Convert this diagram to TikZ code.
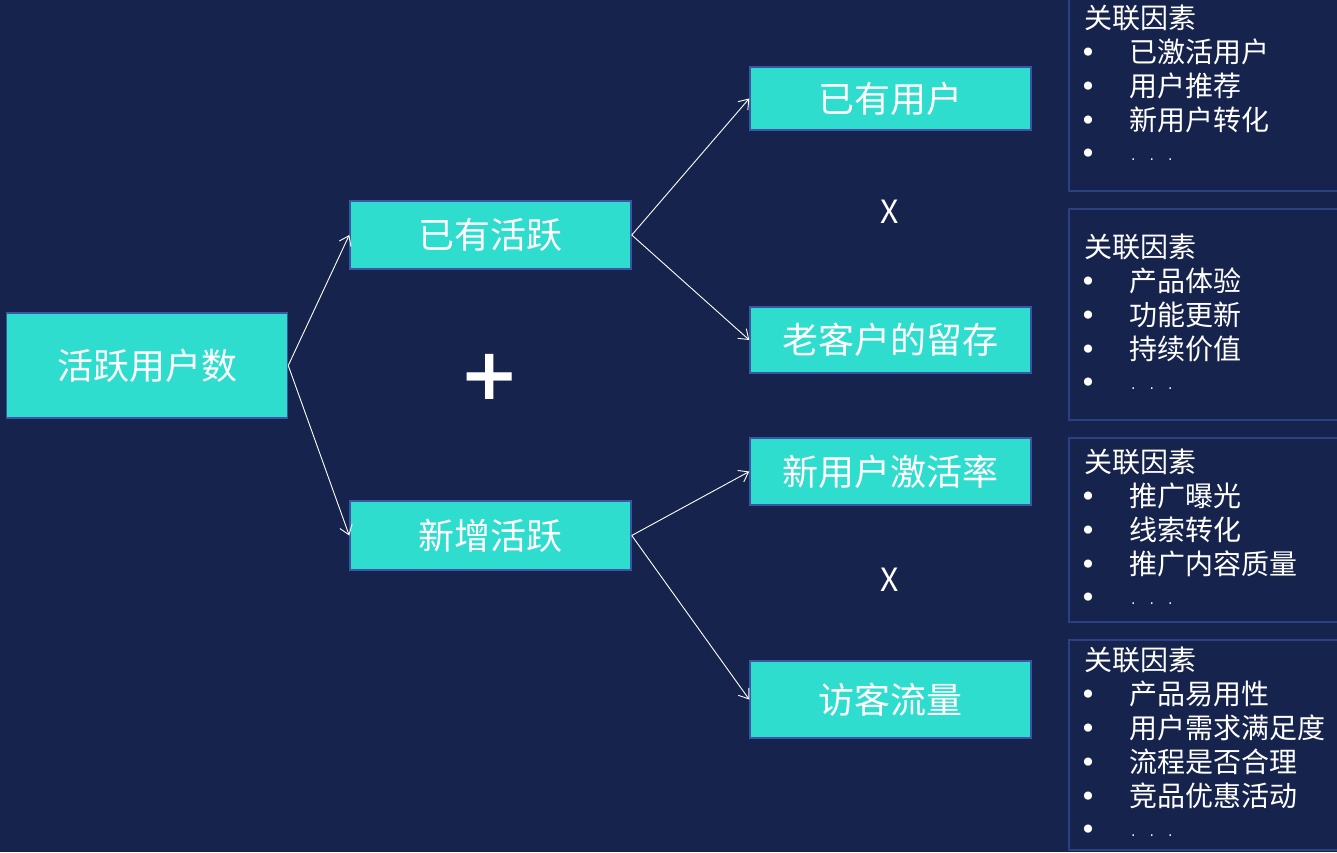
\documentclass[tikz,border=0pt]{standalone}
\usepackage{fontspec}
\setmainfont{Noto Sans CJK SC}
\newfontfamily\dotfont{DejaVu Sans}
\usetikzlibrary{arrows.meta}

\definecolor{bgnavy}{HTML}{16234D}
\definecolor{boxcyan}{HTML}{2EDDCD}
\definecolor{boxedge}{HTML}{3B56A6}
\definecolor{listedge}{HTML}{2B4184}

\tikzset{
  metric/.style={draw=boxedge, line width=1.5pt, fill=boxcyan, text=white,
    minimum width=281pt, inner sep=0pt, font=\fontsize{36}{42}\selectfont},
  link/.style={draw=white, line width=0.9pt, -{Straight Barb[length=9pt,width=13pt]}},
  times/.style={text=white, font=\fontsize{32}{36}\selectfont},
  listbox/.style={draw=listedge, line width=2pt},
  head/.style={text=white, anchor=west, inner sep=0pt, font=\fontsize{28}{32}\selectfont},
  item/.style={head},
  dot/.style={text=white, inner sep=0pt, font=\dotfont\fontsize{28}{30}\selectfont},
  more/.style={text=white, anchor=west, inner sep=0pt, font=\dotfont\fontsize{14}{16}\selectfont}
}

\begin{document}
\begin{tikzpicture}[x=1pt,y=-1pt]
  \fill[bgnavy] (0,0) rectangle (1337,852);
  \useasboundingbox (0,0) rectangle (1337,852);

  % tree of metrics
  \node[metric, minimum height=105pt] (total) at (147,365.5) {活跃用户数};
  \node[metric, minimum height=68pt] (old) at (490.5,235) {已有活跃};
  \node[metric, minimum height=69pt] (new) at (490.5,535.5) {新增活跃};
  \node[metric, minimum height=63pt] (users) at (890.5,98.5) {已有用户};
  \node[metric, minimum height=66pt] (keep) at (890.5,340) {老客户的留存};
  \node[metric, minimum height=67pt] (rate) at (890.5,471.5) {新用户激活率};
  \node[metric, minimum height=77pt] (visit) at (890.5,699.5) {访客流量};

  \node[text=white, font=\dotfont\bfseries\fontsize{72}{76}\selectfont] (plus) at (490,377) {+};
  \node[times] (x1) at (890,212) {X};
  \node[times] (x2) at (890,580) {X};

  \draw[link] (total.east) -- (old.west);
  \draw[link] (total.east) -- (new.west);
  \draw[link] (old.east) -- (users.west);
  \draw[link] (old.east) -- (keep.west);
  \draw[link] (new.east) -- (rate.west);
  \draw[link] (new.east) -- (visit.west);

  % related factors
  \draw[listbox] (1069,-5) rectangle (1345,191);
  \node[head] (h1) at (1084,18) {关联因素};
  \node[dot] (d1a) at (1088,55) {•}; \node[item] (f1a) at (1129,52) {已激活用户};
  \node[dot] (d1b) at (1088,89) {•}; \node[item] (f1b) at (1129,86) {用户推荐};
  \node[dot] (d1c) at (1088,123) {•}; \node[item] (f1c) at (1129,120) {新用户转化};
  \node[dot] (d1d) at (1088,156) {•}; \node[more] (f1d) at (1131,160) {.\quad.\quad.};

  \draw[listbox] (1069,209) rectangle (1345,420);
  \node[head] (h2) at (1084,247) {关联因素};
  \node[dot] (d2a) at (1088,284) {•}; \node[item] (f2a) at (1129,281) {产品体验};
  \node[dot] (d2b) at (1088,318) {•}; \node[item] (f2b) at (1129,315) {功能更新};
  \node[dot] (d2c) at (1088,352) {•}; \node[item] (f2c) at (1129,349) {持续价值};
  \node[dot] (d2d) at (1088,385) {•}; \node[more] (f2d) at (1131,389) {.\quad.\quad.};

  \draw[listbox] (1069,438) rectangle (1345,622);
  \node[head] (h3) at (1084,462) {关联因素};
  \node[dot] (d3a) at (1088,499) {•}; \node[item] (f3a) at (1129,496) {推广曝光};
  \node[dot] (d3b) at (1088,533) {•}; \node[item] (f3b) at (1129,530) {线索转化};
  \node[dot] (d3c) at (1088,567) {•}; \node[item] (f3c) at (1129,564) {推广内容质量};
  \node[dot] (d3d) at (1088,600) {•}; \node[more] (f3d) at (1131,604) {.\quad.\quad.};

  \draw[listbox] (1069,640) rectangle (1345,850);
  \node[head] (h4) at (1084,660) {关联因素};
  \node[dot] (d4a) at (1088,697) {•}; \node[item] (f4a) at (1129,694) {产品易用性};
  \node[dot] (d4b) at (1088,731) {•}; \node[item] (f4b) at (1129,728) {用户需求满足度};
  \node[dot] (d4c) at (1088,765) {•}; \node[item] (f4c) at (1129,762) {流程是否合理};
  \node[dot] (d4d) at (1088,799) {•}; \node[item] (f4d) at (1129,796) {竞品优惠活动};
  \node[dot] (d4e) at (1088,832) {•}; \node[more] (f4e) at (1131,836) {.\quad.\quad.};
\end{tikzpicture}
\end{document}
